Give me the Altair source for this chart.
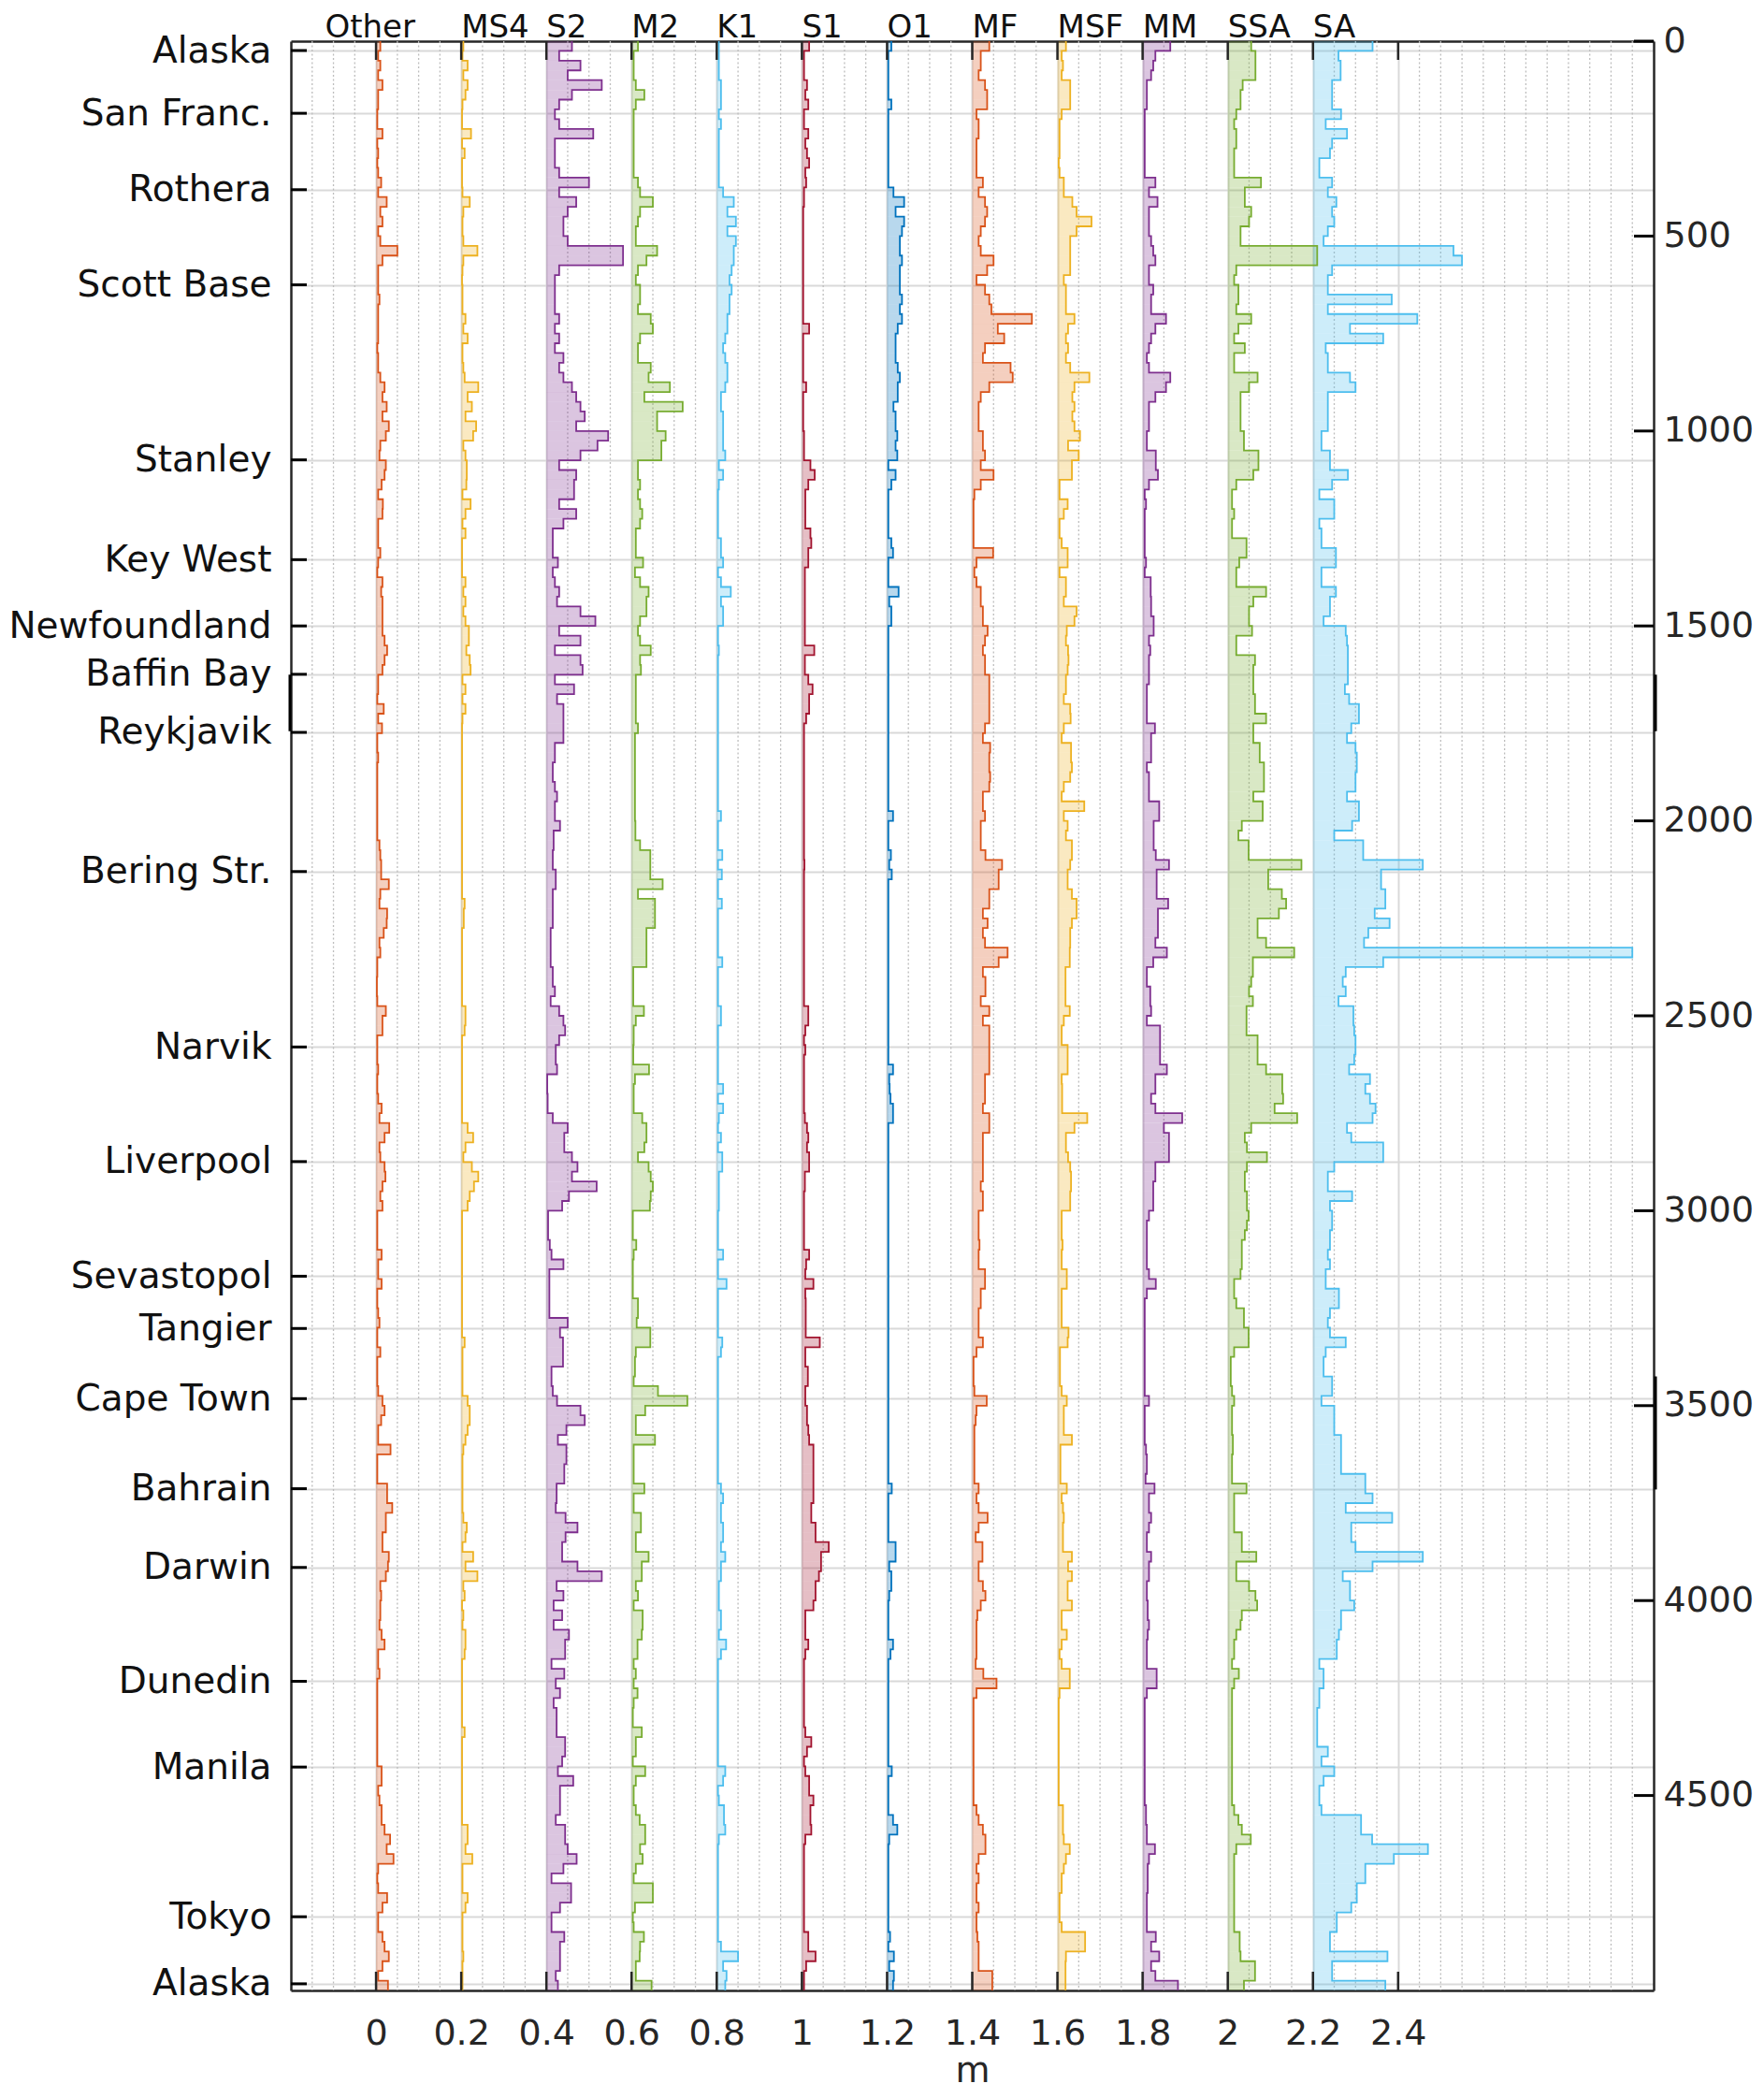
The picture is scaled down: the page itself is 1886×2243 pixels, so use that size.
import altair as alt
import pandas as pd

FONT = "DejaVu Sans"

# ---------------- categories / labels ----------------
NAMES = ["Other", "MS4", "S2", "M2", "K1", "S1", "O1", "MF", "MSF", "MM", "SSA", "SA"]
OFFSETS = [0.0, 0.2, 0.4, 0.6, 0.8, 1.0, 1.2, 1.4, 1.6, 1.8, 2.0, 2.2]
COLORS = ["#D95319", "#EDB120", "#7E2F8E", "#77AC30", "#4DBEEE", "#A2142F",
          "#0072BD", "#D95319", "#EDB120", "#7E2F8E", "#77AC30", "#4DBEEE"]

STATIONS = ["Alaska", "San Franc.", "Rothera", "Scott Base", "Stanley", "Key West",
            "Newfoundland", "Baffin Bay", "Reykjavik", "Bering Str.", "Narvik",
            "Liverpool", "Sevastopol", "Tangier", "Cape Town", "Bahrain", "Darwin",
            "Dunedin", "Manila", "Tokyo", "Alaska"]
STATION_DIST = [24, 185, 381, 625, 1074, 1330, 1500, 1624, 1773, 2130, 2580,
                2874, 3168, 3302, 3482, 3713, 3915, 4207, 4427, 4811, 4983]
DIST_TICKS = [0, 500, 1000, 1500, 2000, 2500, 3000, 3500, 4000, 4500]
M_TICKS = [0, 0.2, 0.4, 0.6, 0.8, 1, 1.2, 1.4, 1.6, 1.8, 2, 2.2, 2.4]

# short heavy segments seen on the frame edges (start, end along track)
RIGHT_EDGE_MARKS = [[1625, 1770], [3425, 3715]]
LEFT_EDGE_MARKS = [[1625, 1770]]

BIN = 25  # along-track spacing of the values below

# ---------------- amplitudes (cm), one value per 25-unit bin ----------------
OTHER_CM = [
    1, 0.5, 1, 0.5, 1.5, 0.5, 0.5, 0.3, 0.3, 1.5, 0.3, 0.5, 0.3, 0.5, 1.2, 0.5, 2.5, 1, 1.5, 0.5,
    1, 5, 1.5, 0.5, 0.5, 0.5, 0.8, 0.5, 0.5, 0.5, 0.5, 0.3, 0.5, 0.5, 1, 2, 1.5, 2.5, 1.5, 3,
    2.3, 1, 0.8, 2.3, 2, 1.3, 0.5, 1.6, 1.5, 0.5, 0.5, 0.5, 1, 0.5, 0.3, 1.5, 1.2, 1.5, 1.5, 1.5,
    1.5, 2, 2.6, 2, 1.5, 0.5, 0.5, 0.3, 1.8, 0.5, 1.4, 0.3, 0.3, 0.5, 0.3, 0.3, 0.3, 0.3, 0.3, 0.3,
    0.3, 0.3, 0.8, 1, 1.2, 1.2, 3, 1, 0.8, 2.6, 2.5, 1.8, 0.8, 1, 0.3, 0.3, 0.2, 0.2, 0.3, 2.3,
    1.5, 1.5, 0.3, 0.3, 0.3, 0.5, 0.3, 0.3, 0.5, 1.3, 0.8, 3.1, 2, 0.8, 1, 2, 2.2, 1.5, 1, 1.5,
    0.3, 0.3, 0.3, 0.3, 1.3, 0.5, 0.5, 1.3, 0.3, 0.3, 0.5, 0.8, 0.3, 0.3, 1, 0.3, 0.3, 0.3, 0.5, 1.5,
    2, 1.2, 0.5, 0.5, 3.4, 0.3, 0.3, 0.3, 2.6, 2.6, 3.8, 2.3, 2.3, 1.5, 1.5, 3, 2.8, 2.3, 1, 1.2,
    1, 1, 0.8, 1.3, 2, 0.5, 0.5, 0.8, 0.3, 0.3, 0.3, 0.3, 0.3, 0.3, 0.3, 0.3, 0.3, 1.3, 1.3, 0.5,
    0.8, 1.3, 1.3, 2, 3.3, 2.5, 4.1, 0.5, 0.3, 0.5, 2.6, 1.5, 0.5, 0.5, 1.5, 2, 3, 1.5, 0.5, 2.8,
]
MS4_CM = [
    0.5, 0.3, 1.5, 0.5, 1.5, 1, 0.3, 0.2, 0.2, 2.3, 0.2, 0.8, 0.2, 0.2, 0.2, 0.3, 2, 0.5, 0.3, 0.3,
    0.5, 3.8, 0.5, 0.3, 0.2, 0.3, 0.3, 0.3, 1, 0.5, 1.5, 0.3, 0.3, 0.5, 0.8, 4, 1.5, 2.5, 1, 3.5,
    2.8, 0.5, 1, 1.3, 1.3, 1.2, 0.3, 2.2, 1, 0.3, 1, 0.2, 0.2, 0.2, 0.2, 1, 0.5, 1, 0.5, 1,
    1.8, 1.8, 1.2, 2, 2.2, 0.3, 1, 0.3, 1, 0.3, 0.2, 0.2, 0.2, 0.2, 0.2, 0.2, 0.2, 0.2, 0.2, 0.2,
    0.2, 0.2, 0.2, 0.2, 0.2, 0.2, 0.2, 0.2, 0.8, 0.6, 0.6, 0.2, 0.2, 0.2, 0.2, 0.2, 0.2, 0.2, 0.2, 1,
    1, 0.8, 0.2, 0.2, 0.2, 0.2, 0.2, 0.2, 0.2, 0.2, 0.2, 1.5, 2.8, 1, 0.5, 2.5, 4, 3, 2, 1.5,
    0.2, 0.2, 0.2, 0.2, 0.2, 0.2, 0.2, 0.2, 0.2, 0.2, 0.2, 0.2, 0.2, 0.8, 0.3, 0.3, 0.3, 0.3, 0.3, 1.5,
    2, 2, 1.5, 1, 0.5, 0.3, 0.3, 0.3, 0.3, 0.3, 0.3, 0.5, 1.3, 1, 0.3, 2.8, 1, 3.8, 0.5, 0.8,
    0.2, 0.5, 0.3, 1, 1, 0.8, 0.2, 0.2, 0.2, 0.2, 0.2, 0.2, 0.2, 0.8, 0.2, 0.2, 0.2, 0.2, 0.2, 0.2,
    0.2, 0.2, 0.2, 1.5, 1.5, 1, 2.6, 0.3, 0.3, 0.3, 1.5, 1, 0.3, 0.3, 0.3, 0.3, 0.5, 0.3, 0.3, 0.3,
]
S2_CM = [
    6, 3, 8, 5, 13, 6, 3, 2, 3, 11, 2, 2, 2, 3, 10, 3, 7, 5, 4, 4,
    5, 18, 18, 3, 2, 2, 2, 2, 3, 2, 3, 2, 4, 3, 4, 6, 7, 8, 9, 7,
    14.5, 12, 8, 3, 7, 6.5, 6.5, 3, 7, 4, 1.5, 1.5, 1.5, 2.7, 1.5, 2, 3, 2.5, 8, 11.5,
    3, 8, 2, 8, 8.5, 2, 6.5, 2.5, 4, 4, 4, 4, 2, 2, 1.5, 1.5, 2, 2.5, 2, 2,
    3.2, 1.7, 1.7, 1.5, 1.5, 2.2, 2.2, 1.5, 1.5, 1.5, 1.5, 1, 1, 1, 1, 1.5, 1.5, 2, 1, 3,
    4, 4.4, 3, 2.2, 2.2, 2.5, 0.2, 0.2, 0.3, 0.3, 1.5, 5, 4.2, 4.2, 6, 7.3, 6, 11.8, 5.3, 3.7,
    0.4, 0.4, 0.4, 0.8, 1.2, 4, 0.7, 0.7, 0.7, 0.7, 0.7, 5, 3.2, 3.9, 3.9, 3.9, 1.2, 1.2, 1.5, 2.5,
    8, 9, 4.7, 2.7, 4.7, 4.7, 4.2, 4.2, 2.4, 2.4, 2.2, 4.5, 7.3, 4.5, 3.7, 3.7, 7.3, 13, 2.4, 4,
    1.7, 3.7, 1.7, 5.3, 4.4, 4.4, 1.2, 4.2, 2.2, 3.2, 1.7, 2.4, 2.4, 2.4, 4.4, 4.4, 3.7, 2.7, 6.3, 3.2,
    3.2, 3.2, 2.2, 4.4, 4.4, 5, 7.1, 4, 1.2, 5.8, 5.8, 3.2, 1.2, 1.2, 4.2, 3.2, 3.2, 3.2, 2.2, 2.7,
]
M2_CM = [
    1.5, 0.5, 0.5, 0.5, 1, 3, 1, 0.5, 0.5, 0.5, 0.5, 0.5, 0.5, 0.5, 1.5, 2, 5, 2, 1.5, 1,
    1, 6, 3.5, 1.5, 1, 2, 2, 1.5, 4.5, 5, 2, 1.5, 1.5, 4.5, 4, 9, 3, 12, 6, 6,
    8, 7, 7, 1.5, 1.5, 2, 1.5, 2, 2.5, 2, 1, 1, 1, 2.7, 0.8, 2, 4, 3.5, 3.5, 2,
    1.5, 2, 4.5, 2, 2.2, 1, 1, 1, 1, 1, 1.5, 0.8, 0.8, 0.8, 0.8, 0.8, 0.8, 0.8, 0.8, 0.8,
    0.9, 0.9, 2, 4.4, 4.4, 4.4, 7.3, 1.5, 5.5, 5.5, 5.5, 3.5, 3.5, 3.5, 3.5, 0.4, 0.4, 0.4, 0.4, 2.9,
    1, 0.5, 0.5, 0.4, 0.4, 4.1, 0.8, 0.5, 0.5, 0.5, 2.5, 3.5, 3.5, 3, 1.5, 4, 4.5, 5, 4.5, 4.3,
    0.3, 0.3, 0.3, 1.1, 0.5, 0.3, 0.3, 0.3, 0.3, 1.5, 1.5, 1.2, 4.4, 4.4, 1, 0.8, 0.8, 0.5, 6.2, 13.1,
    3.2, 1, 1, 5.5, 0.5, 0.5, 0.5, 0.5, 3, 0.5, 0.5, 2.2, 2.2, 1, 1, 4, 2.4, 2.4, 1, 1.5,
    0.5, 2.6, 2.6, 2.4, 1.4, 1.4, 0.5, 1, 0.5, 1.4, 0.5, 0.3, 0.3, 2.4, 1, 1, 0.3, 3.2, 1, 0.5,
    0.5, 1, 1.9, 3.2, 3.2, 2, 2.6, 1, 0.5, 5, 5, 0.8, 0.3, 0.5, 2.9, 2, 1.9, 1, 1, 4.7,
]
K1_CM = [
    0.5, 0.5, 0.5, 0.5, 1, 1, 1, 0.5, 1, 0.5, 0.5, 0.5, 0.5, 0.5, 0.5, 1.5, 4, 2.5, 4.5, 2.5,
    4.5, 4, 4, 3.5, 3, 3.5, 3, 3, 2.5, 2.5, 2, 1.5, 2, 2.5, 2.5, 2, 1, 1, 1.5, 1.5,
    1.5, 1.5, 2, 0.5, 1.5, 0.5, 0.3, 0.3, 0.3, 0.3, 0.3, 1, 1, 1.5, 0.3, 1, 3.3, 1, 1.5, 1.5,
    0.3, 0.3, 0.5, 0.3, 0.3, 0.3, 0.3, 0.3, 0.3, 0.3, 0.3, 0.3, 0.3, 0.3, 0.3, 0.3, 0.3, 0.3, 0.3, 1,
    0.3, 0.3, 0.3, 1.3, 0.3, 1.2, 0.3, 0.3, 1.2, 0.3, 0.3, 0.3, 0.3, 0.3, 1.3, 0.3, 0.3, 0.3, 0.3, 1,
    1, 0.3, 0.3, 0.3, 0.3, 0.3, 0.3, 1.5, 0.3, 1.5, 0.5, 0.3, 1, 0.3, 1.3, 1.3, 0.5, 0.5, 0.5, 0.5,
    0.3, 0.3, 0.3, 0.3, 1.5, 0.3, 0.3, 2.3, 0.3, 0.3, 0.3, 0.3, 0.3, 1.3, 1, 0.3, 0.3, 0.3, 0.3, 0.3,
    0.3, 0.3, 0.3, 0.3, 0.3, 0.3, 0.3, 0.3, 1, 1.5, 1, 1, 1.5, 1.5, 1, 2, 1, 1, 0.5, 0.5,
    0.5, 1, 1, 0.5, 2.2, 1, 0.3, 0.3, 0.3, 0.3, 0.3, 0.3, 0.3, 0.3, 0.3, 0.3, 0.3, 2, 1.5, 0.3,
    0.5, 1.7, 1.7, 2, 0.5, 0.3, 0.3, 0.3, 0.3, 0.3, 0.3, 0.3, 0.3, 0.3, 0.3, 1, 5, 1.5, 2.3, 2,
]
S1_CM = [
    1.7, 0.5, 0.5, 0.5, 1.2, 0.8, 1.5, 0.5, 0.5, 1.5, 0.8, 1.2, 1.7, 0.8, 1, 0.5, 0.5, 0.3, 0.3, 0.3,
    0.3, 0.3, 0.3, 0.3, 0.3, 0.3, 0.3, 0.3, 0.3, 1.7, 0.3, 0.3, 0.3, 0.3, 0.3, 1, 0.3, 0.3, 0.3, 0.3,
    0.5, 0.5, 0.5, 2, 3, 1.5, 0.8, 0.8, 0.8, 0.8, 2, 2.2, 1.5, 1.5, 0.7, 0.7, 0.7, 0.7, 0.7, 0.7,
    0.7, 0.7, 2.9, 0.7, 0.7, 1.5, 2.5, 1.7, 1.7, 1, 0.5, 0.5, 0.5, 0.5, 0.5, 0.5, 0.5, 0.5, 0.5, 0.5,
    0.5, 0.5, 0.5, 0.5, 0.6, 0.5, 0.5, 0.5, 0.5, 0.5, 0.5, 0.5, 0.5, 0.5, 0.5, 0.5, 0.5, 0.5, 0.5, 1.5,
    1.5, 0.8, 0.5, 0.8, 0.5, 0.5, 0.5, 0.5, 0.5, 0.5, 0.7, 1.2, 1.5, 1.2, 1.7, 1.7, 0.7, 0.7, 0.5, 0.5,
    0.5, 0.5, 0.5, 0.5, 1.7, 1, 0.8, 2.7, 0.8, 0.9, 0.9, 0.9, 0.9, 4.2, 0.8, 0.8, 1.4, 1.4, 0.8, 0.8,
    1.2, 1.2, 1.5, 1.7, 2.7, 2.7, 2.7, 2.7, 2.7, 2.7, 2.2, 2.2, 3.2, 3.2, 6.3, 4.5, 4.5, 4, 3.2, 3.2,
    2.7, 0.8, 0.8, 0.8, 1.5, 0.8, 0.5, 0.5, 0.5, 0.5, 0.5, 0.5, 0.5, 0.8, 2.2, 1.2, 0.5, 0.8, 1.7, 1.7,
    2.7, 2, 2, 2.2, 0.8, 0.5, 0.5, 0.5, 0.5, 0.5, 0.5, 0.5, 0.5, 0.5, 1.5, 1.5, 3.2, 1, 0.5, 0.5,
]
O1_CM = [
    1, 0.3, 0.3, 0.3, 0.3, 0.3, 1, 0.3, 0.3, 0.3, 0.3, 0.3, 0.3, 0.3, 0.3, 1.5, 4, 2, 4, 3.5,
    3, 3, 3.5, 3, 3, 3, 3.5, 3, 3.5, 2.5, 2, 2, 2, 2.5, 3, 2.5, 2.5, 1.5, 2, 2,
    2.4, 2, 2.4, 0.3, 2, 1, 0.3, 0.3, 0.3, 0.3, 0.3, 1, 1.4, 0.3, 0.3, 0.3, 2.7, 0.5, 1, 1,
    0.3, 0.3, 0.3, 0.3, 0.3, 0.3, 0.3, 0.3, 0.3, 0.3, 0.3, 0.3, 0.3, 0.3, 0.3, 0.3, 0.3, 0.3, 0.3, 1.4,
    0.3, 0.3, 0.3, 0.9, 0.5, 1.1, 0.3, 0.3, 0.3, 0.3, 0.3, 0.3, 0.3, 0.3, 0.3, 0.3, 0.3, 0.3, 0.3, 0.3,
    0.3, 0.3, 0.3, 0.3, 0.3, 1.4, 0.5, 0.6, 0.8, 1.4, 1.4, 0.3, 0.3, 0.3, 0.3, 0.3, 0.3, 0.3, 0.3, 0.3,
    0.3, 0.3, 0.3, 0.3, 0.3, 0.3, 0.3, 0.3, 0.3, 0.3, 0.3, 0.3, 0.3, 0.3, 0.3, 0.3, 0.3, 0.3, 0.3, 0.3,
    0.3, 0.3, 0.3, 0.3, 0.3, 0.3, 0.3, 0.3, 1.1, 0.3, 0.3, 0.3, 0.3, 0.3, 2, 2, 0.5, 1, 1, 0.5,
    0.3, 0.3, 0.3, 0.3, 1.4, 0.8, 0.3, 0.3, 0.3, 0.3, 0.3, 0.3, 0.3, 0.3, 0.3, 0.3, 0.3, 1.1, 0.3, 0.3,
    0.3, 0.3, 1.4, 2.4, 0.5, 0.3, 0.3, 0.3, 0.3, 0.3, 0.3, 0.3, 0.3, 0.3, 0.7, 0.3, 1.6, 0.5, 1.6, 1.4,
]
MF_CM = [
    4, 2, 2, 1.5, 3, 3.5, 3.5, 1, 1.5, 1.5, 1, 1, 1, 1, 2.5, 1.5, 3, 3.5, 3, 2,
    1.5, 2, 5, 3.5, 1, 3, 4, 4.5, 14, 6, 7.5, 3, 2.5, 9, 9.5, 4, 2, 1.5, 1.5, 1.5,
    2.5, 2.5, 3, 2, 5, 2, 0.5, 0.3, 0.3, 0.3, 0.3, 0.3, 4.9, 1, 0.5, 1, 2, 2, 2.5, 2.5,
    3.6, 3, 2.5, 3, 3, 4, 4, 4, 4, 4, 3, 2.5, 4.2, 4, 4, 4.2, 4, 2.5, 2.5, 3,
    2, 2, 2, 3.1, 7, 6.2, 6.2, 4, 4, 2.5, 3.6, 2.5, 3, 8.3, 6.2, 2.5, 3.1, 3.1, 2, 4,
    2.5, 4, 4, 4, 4, 4, 3, 3, 3, 2.5, 4, 4, 2.5, 2.5, 2.5, 2.5, 2.5, 2, 2.5, 2.5,
    1.5, 1.5, 1.5, 1.7, 1.5, 1.5, 3, 3, 2, 2, 1.5, 1.5, 1.5, 2.5, 1, 0.3, 0.3, 0.3, 0.5, 3.4,
    1, 0.8, 0.5, 0.5, 0.5, 0.5, 0.5, 0.5, 1.5, 1, 1.5, 3.6, 1.5, 0.8, 2.4, 2.4, 1.5, 1.5, 2.5, 3.1,
    2, 1.2, 1, 1, 1, 1, 0.8, 2.6, 5.7, 1, 0.3, 0.3, 0.3, 0.3, 0.3, 0.3, 0.3, 0.3, 0.3, 0.3,
    0.3, 1, 1.5, 2.5, 3.1, 3.1, 1.5, 1, 1.5, 1, 1, 1.5, 1, 1, 1.2, 1.5, 1.5, 1.5, 4.7, 4.7,
]
MSF_CM = [
    2, 1, 1.3, 1, 3, 3, 3, 1, 0.5, 0.5, 0.5, 0.5, 0.3, 0.5, 1.5, 1.5, 3.5, 4.5, 8, 4.5,
    3, 3, 3, 3, 1.5, 2, 2, 2, 4, 2.5, 2, 2.5, 2, 3, 7.5, 4, 3.5, 4, 3.5, 4,
    5.3, 2.5, 5, 3.4, 3.4, 0.5, 0.5, 2.4, 1.5, 0.5, 0.5, 1, 2.4, 2.4, 0.5, 2, 2, 1.5, 4.5, 4,
    2.2, 2, 2.5, 2.6, 2.4, 2, 2, 1.5, 3, 3.1, 1.5, 1, 3.2, 3.2, 3.4, 3, 1.5, 1, 6.3, 1.5,
    2.4, 2, 3.4, 3.4, 3, 2.4, 2.4, 3.4, 4.5, 4.5, 3.4, 3, 3, 2.9, 2.9, 1.9, 1.9, 1.9, 1.9, 2.9,
    1.5, 1, 1, 2.4, 2.4, 2.4, 1, 1.1, 1.1, 1.1, 7, 4, 2, 2, 2.5, 3, 3.2, 3.2, 3, 3,
    1, 1, 1, 1.2, 1, 1, 2.2, 2.2, 1, 1, 1, 1, 2.6, 2.4, 0.6, 0.6, 0.6, 0.6, 1, 2.2,
    1.5, 1.5, 1.5, 3.4, 0.7, 0.7, 0.7, 0.7, 2.2, 1, 1.3, 1.5, 1.3, 1.3, 1.3, 3.4, 2.5, 3.4, 2.4, 2.4,
    3.4, 1, 1, 2.2, 1, 0.5, 1, 2.9, 2.9, 0.5, 0.3, 0.3, 0.3, 0.3, 0.3, 0.3, 0.3, 0.3, 0.3, 0.3,
    0.3, 1.3, 1.3, 1.3, 1.5, 2.9, 2, 1.5, 1, 1, 0.5, 0.5, 0.5, 1, 6.5, 6.5, 2, 1.9, 1.9, 1.9,
]
MM_CM = [
    6.5, 3, 2.5, 2, 1, 1, 1, 0.5, 0.5, 0.5, 0.5, 0.5, 0.5, 0.5, 3, 1.5, 3.5, 1.5, 1.5, 1.5,
    2, 2.5, 3, 1.5, 1.5, 2.5, 2, 2, 5.5, 3, 2, 1.5, 1, 1.5, 6.5, 5.5, 3, 1.5, 1.5, 1.5,
    1, 1, 3.1, 3.1, 3.6, 1.5, 0.5, 0.8, 0.5, 0.5, 0.5, 0.5, 0.5, 0.8, 0.5, 1.9, 1.9, 2, 2, 2.6,
    2.6, 1.5, 1.8, 1.5, 1.5, 1.5, 1, 1, 1, 1, 2.9, 2, 2, 2, 1, 1.5, 1.5, 1.5, 3.9, 3.9,
    2.6, 2.6, 2.6, 3.1, 6.2, 3.3, 3.3, 3.3, 6, 3.6, 3.6, 3.6, 3, 5.7, 2.5, 1, 1, 1.8, 1.8, 2,
    1, 4.1, 4.1, 4.1, 4.1, 5.7, 3, 3, 2, 3, 9.3, 5, 6.2, 6.2, 6.2, 3, 3, 2.5, 2.5, 2.5,
    1.5, 1, 1, 1, 1, 1, 1.5, 3.1, 1, 0.5, 0.5, 0.5, 0.5, 0.5, 0.5, 0.5, 0.5, 0.5, 0.5, 1.5,
    0.5, 0.5, 0.5, 0.5, 0.8, 1, 1, 0.7, 2.8, 1.5, 1.5, 2, 1.5, 1, 1, 2, 1.5, 1.5, 1, 1,
    1.2, 1.2, 1.5, 1.2, 1, 1, 1, 3.3, 3.3, 1, 0.5, 0.5, 0.5, 0.5, 0.5, 0.5, 0.5, 0.5, 0.5, 0.5,
    0.5, 0.8, 0.8, 1, 1, 2.9, 1.5, 1.2, 1.2, 1.2, 1, 1, 1, 1, 3.1, 2, 3.9, 2, 3, 8.3,
]
SSA_CM = [
    5.5, 6.5, 6.5, 6.5, 3.5, 3, 3, 2, 1.5, 2, 2, 1.5, 1.5, 1.5, 7.8, 4, 4, 5.5, 5, 3,
    3, 21, 21, 2, 1.5, 2.5, 2.5, 2, 5.5, 2.5, 1.5, 4, 1.5, 1.5, 7, 5, 3, 3, 3, 3,
    3.8, 3.8, 7.2, 7.2, 6, 2, 1, 1, 1.5, 1, 1, 4.4, 4.4, 2.7, 2, 2, 9, 6, 5, 5,
    5.7, 2, 2, 6.4, 6, 6, 6, 6.4, 6.4, 9, 6, 6, 7.5, 7.5, 8.5, 8.5, 8.5, 6, 8.2, 8.2,
    3.3, 2.5, 4.9, 4.9, 17.3, 9.5, 9.5, 12.7, 13.7, 12, 7, 7, 9, 15.6, 5.9, 5.9, 5.5, 5, 5.9, 4.4,
    4.4, 4.4, 7, 7, 7, 9, 12.8, 12.8, 13, 11, 16.3, 5.5, 4, 4.5, 9.2, 4.5, 4, 4, 4.5, 4.5,
    4.9, 4.5, 4, 3.3, 3.3, 3.3, 3, 1.5, 1.5, 2, 3.8, 3.8, 4.9, 4.9, 1.5, 0.7, 0.7, 0.7, 1, 1.5,
    1, 1, 1, 1.2, 1.2, 1, 1, 1, 4.4, 1.5, 1.5, 1.5, 1.5, 3.3, 3.3, 6.7, 2, 2, 5, 6.5,
    6.9, 3.3, 3, 2, 1.5, 1.5, 1, 2.6, 1.5, 1, 1, 1, 1, 1, 1, 1, 1, 1, 1, 1,
    1, 1.5, 2.5, 3.3, 5.4, 2, 1.5, 1.5, 1.5, 1.5, 1.5, 1.5, 1.5, 1.5, 2.8, 2.8, 3, 6.4, 6.4, 3.8,
]
SA_CM = [
    14, 6, 6.5, 6.5, 4.5, 4.5, 4.5, 6.6, 3, 8, 4.5, 4, 1.5, 1.5, 4.5, 3.5, 5.5, 4.5, 5, 3.5,
    2.5, 33, 35, 4.5, 3.5, 3.5, 18.5, 3.5, 24.5, 8.7, 16.5, 3, 3.5, 3.5, 8.7, 10, 3.5, 3.5, 3.5, 3.5,
    2, 2, 4, 4, 8.2, 4.5, 1.5, 5, 5, 1.5, 2, 2, 5.4, 5.4, 2, 2, 5.4, 4, 4, 2.5,
    7.7, 8, 8.2, 8.2, 8.2, 8.2, 7.5, 8.5, 10.8, 10.8, 9, 8, 10, 10.3, 10.3, 10, 10, 8, 10.8, 10.8,
    9.2, 5, 11.8, 11.8, 25.8, 16, 16, 17, 17, 14.5, 18, 13, 12, 75, 16.5, 7.7, 7, 7.7, 6, 9.5,
    9.5, 9.7, 10, 10, 9.7, 8.5, 13.4, 12.3, 13.4, 14.7, 14, 8, 9, 16.5, 16.5, 5, 3.5, 3.5, 9.2, 4,
    4.5, 4.5, 4, 4, 3.5, 4, 3, 3, 6.1, 6.1, 4, 3.5, 4, 7.7, 3, 2.5, 2.5, 4.5, 4.5, 2,
    5, 5, 5, 6.6, 6.6, 6.6, 6.6, 12.3, 12.3, 14, 7.7, 18.6, 9, 9, 10, 25.8, 14, 7, 8.7, 8.7,
    9.7, 6.6, 6.6, 6.1, 5.6, 5.6, 1.5, 2.5, 2.5, 1.5, 1.5, 1, 1, 1, 1, 3.5, 2, 5, 2.5, 1.5,
    1.5, 2, 11.3, 11.3, 13.9, 27, 19, 12.3, 12.3, 10.3, 10.3, 9, 5.6, 5.6, 4, 4, 17.5, 4.5, 4.5, 17,
]

SERIES = [OTHER_CM, MS4_CM, S2_CM, M2_CM, K1_CM, S1_CM, O1_CM,
          MF_CM, MSF_CM, MM_CM, SSA_CM, SA_CM]

# ---------------- tables ----------------
rows = []
for name, off, vals in zip(NAMES, OFFSETS, SERIES):
    for k, v in enumerate(vals):
        rows.append({"series": name, "dist": k * BIN, "dist2": (k + 1) * BIN,
                     "x": off + v / 100.0, "base": off})
    rows.append({"series": name, "dist": len(vals) * BIN, "dist2": len(vals) * BIN,
                 "x": off + vals[-1] / 100.0, "base": off})
df = pd.DataFrame(rows)

minor_df = pd.DataFrame({"x": [round(i * 0.05, 2) for i in range(-3, 60)
                               if not (i % 4 == 0 and 0 <= i <= 48)]})
mtick_df = pd.DataFrame({"x": M_TICKS})
stat_df = pd.DataFrame({"d": STATION_DIST})
dtick_df = pd.DataFrame({"d": DIST_TICKS})
lab_df = pd.DataFrame({"name": NAMES, "lx": [-0.12] + OFFSETS[1:]})
redge_df = pd.DataFrame({"a": [s[0] for s in RIGHT_EDGE_MARKS], "b": [s[1] for s in RIGHT_EDGE_MARKS]})
ledge_df = pd.DataFrame({"a": [s[0] for s in LEFT_EDGE_MARKS], "b": [s[1] for s in LEFT_EDGE_MARKS]})

# ---------------- layout ----------------
TOP = 36
W, H = 1457, 2084
INK = "#262626"
GRID = "#d9d9d9"

xs = alt.Scale(domain=[-0.2, 3.0], nice=False, zero=False)
ys = alt.Scale(domain=[0, 5000], reverse=True, nice=False, zero=False)
cs = alt.Scale(domain=NAMES, range=COLORS)

label_expr = ("[" + ",".join("'" + s + "'" for s in STATIONS) + "][indexof(["
              + ",".join(str(d) for d in STATION_DIST) + "], datum.value)]")

bottom_axis = alt.Axis(orient="bottom", values=M_TICKS, format="~g",
                       labelFont=FONT, labelFontSize=38, labelColor=INK,
                       labelPadding=27, labelFlush=False, labelOverlap=False,
                       ticks=False, tickSize=0, grid=True, gridColor=GRID, gridWidth=2,
                       domain=True, domainColor=INK, domainWidth=2.5,
                       title="m", titleFont=FONT, titleFontSize=38,
                       titleFontWeight="normal", titleColor=INK, titlePadding=2)
top_axis = alt.Axis(orient="top", labels=False, ticks=False, tickSize=0, grid=False,
                    domain=True, domainColor=INK, domainWidth=2.5, title=None)
left_axis = alt.Axis(orient="left", values=STATION_DIST, labelExpr=label_expr,
                     labelFont=FONT, labelFontSize=39, labelColor="#111111",
                     labelPadding=21, labelFlush=False, labelOverlap=False, labelLimit=600,
                     ticks=False, tickSize=0, grid=True, gridColor=GRID, gridWidth=2,
                     domain=True, domainColor=INK, domainWidth=2.5, title=None)
right_axis = alt.Axis(orient="right", values=DIST_TICKS, format="d",
                      labelFont=FONT, labelFontSize=38, labelColor=INK,
                      labelPadding=10, labelFlush=False, labelOverlap=False, labelLimit=600,
                      ticks=False, tickSize=0, grid=False,
                      domain=True, domainColor=INK, domainWidth=2.5, title=None)

minor = alt.Chart(minor_df).mark_rule(color="#bdbdbd", strokeWidth=1.3,
                                      strokeDash=[2, 2.5]).encode(
    x=alt.X("x:Q", scale=xs, axis=bottom_axis))

fills = alt.Chart(df).mark_rect(opacity=0.28, strokeWidth=0).encode(
    x=alt.X("base:Q", scale=xs, axis=None),
    x2=alt.X2("x:Q"),
    y=alt.Y("dist:Q", scale=ys, axis=None),
    y2=alt.Y2("dist2:Q"),
    color=alt.Color("series:N", scale=cs, legend=None),
)

lines = alt.Chart(df).mark_line(interpolate="step-before", strokeWidth=1.8).encode(
    x=alt.X("x:Q", scale=xs, axis=None),
    y=alt.Y("dist:Q", scale=ys, axis=left_axis),
    color=alt.Color("series:N", scale=cs, legend=None),
    order=alt.Order("dist:Q"),
)

top_ticks = alt.Chart(mtick_df).mark_rule(color=INK, strokeWidth=2.5).encode(
    x=alt.X("x:Q", scale=xs, axis=top_axis), y=alt.value(0), y2=alt.value(20))
bottom_ticks = alt.Chart(mtick_df).mark_rule(color=INK, strokeWidth=2.5).encode(
    x=alt.X("x:Q", scale=xs, axis=None), y=alt.value(H - 20), y2=alt.value(H))
left_ticks = alt.Chart(stat_df).mark_rule(color="#000000", strokeWidth=3).encode(
    y=alt.Y("d:Q", scale=ys, axis=None), x=alt.value(0), x2=alt.value(17))
right_ticks = alt.Chart(dtick_df).mark_rule(color="#000000", strokeWidth=3).encode(
    y=alt.Y("d:Q", scale=ys, axis=right_axis), x=alt.value(W - 21), x2=alt.value(W))
right_edges = alt.Chart(redge_df).mark_rule(color="#000000", strokeWidth=3).encode(
    y=alt.Y("a:Q", scale=ys, axis=None), y2="b:Q", x=alt.value(W + 2))
left_edges = alt.Chart(ledge_df).mark_rule(color="#000000", strokeWidth=3).encode(
    y=alt.Y("a:Q", scale=ys, axis=None), y2="b:Q", x=alt.value(-1))

labels = alt.Chart(lab_df).mark_text(align="left", baseline="alphabetic", font=FONT,
                                     fontSize=34, color="#111111").encode(
    x=alt.X("lx:Q", scale=xs, axis=None), y=alt.value(-4), text="name:N")

chart = alt.layer(minor, fills, lines, top_ticks, bottom_ticks, left_ticks, right_ticks,
                  right_edges, left_edges, labels
                  ).resolve_axis(x="independent", y="independent").properties(
    width=W, height=H,
    padding={"left": 303, "top": TOP, "right": 110, "bottom": 107},
    autosize=alt.AutoSizeParams(type="none"),
    background="white",
).configure_view(stroke=None)

chart.save("out.html", embed_options={"renderer": "svg", "actions": False})
